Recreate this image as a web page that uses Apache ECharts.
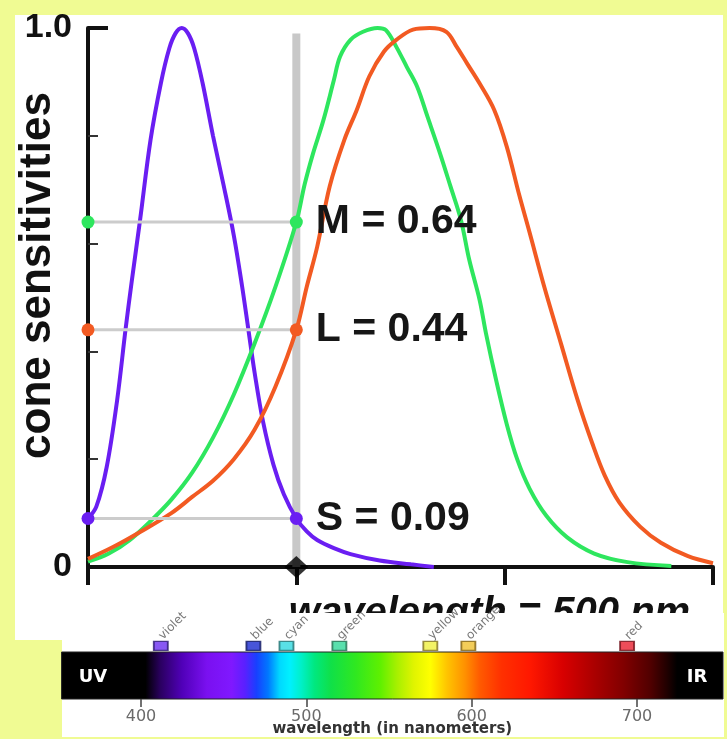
<!DOCTYPE html>
<html>
<head>
<meta charset="utf-8">
<script src="https://cdn.jsdelivr.net/npm/echarts@6/dist/echarts.min.js"></script>
<style>
  html, body { margin: 0; padding: 0; background: #f0fb93; }
  #chart { width: 727px; height: 739px; }
</style>
</head>
<body>
<div id="chart"></div>
<script>
// Cone fundamentals (normalised sensitivity vs wavelength in nm)
const sConeNm   = [400, 404, 409, 414, 418, 421, 425, 430, 435, 439, 442, 445, 448, 451, 455, 460, 465, 470, 474, 477, 480, 484, 489, 494, 500, 505, 510, 518, 526, 540, 555, 566];
const sConeSens = [0.09, 0.112, 0.186, 0.31, 0.44, 0.53, 0.644, 0.792, 0.898, 0.962, 0.99, 1.0, 0.99, 0.962, 0.898, 0.8, 0.71, 0.615, 0.52, 0.44, 0.36, 0.27, 0.19, 0.135, 0.09, 0.066, 0.05, 0.035, 0.024, 0.012, 0.005, 0.0];

const mConeNm   = [400, 410, 420, 430, 440, 450, 460, 470, 480, 490, 500, 504, 508, 513, 518, 521, 526, 532, 539, 543, 548, 553, 558, 563, 569, 574, 579, 583, 588, 591, 596, 601, 606, 612, 620, 630, 643, 659, 680];
const mConeSens = [0.01, 0.025, 0.05, 0.085, 0.125, 0.175, 0.24, 0.32, 0.415, 0.52, 0.64, 0.71, 0.767, 0.829, 0.903, 0.947, 0.978, 0.993, 1.0, 0.996, 0.965, 0.928, 0.891, 0.835, 0.767, 0.706, 0.644, 0.57, 0.495, 0.434, 0.345, 0.265, 0.2, 0.145, 0.095, 0.055, 0.025, 0.009, 0.002];

const lConeNm   = [400, 412, 425, 440, 450, 460, 470, 480, 490, 500, 505, 510, 516, 523, 529, 535, 542, 548, 556, 564, 572, 577, 582, 588, 595, 601, 607, 612, 619, 627, 635, 642, 648, 655, 665, 675, 688, 700];
const lConeSens = [0.015, 0.037, 0.065, 0.1, 0.13, 0.16, 0.2, 0.255, 0.335, 0.44, 0.52, 0.594, 0.706, 0.792, 0.848, 0.91, 0.956, 0.978, 0.997, 1.0, 0.993, 0.965, 0.934, 0.897, 0.848, 0.78, 0.69, 0.62, 0.52, 0.415, 0.31, 0.23, 0.17, 0.12, 0.075, 0.045, 0.02, 0.007];

// Read-out at the probe wavelength
const probeNm = 500;
const probeTop = 0.99;
const readoutNames  = ['M', 'L', 'S'];
const readoutValues = [0.64, 0.44, 0.09];

// Axis ranges and tick labels
const sensAxis = [0, 1];
const nmAxis = [400, 700];
const sensTickLabels = [0, 1];

// Visible spectrum strip
const spectrumRange = [352, 752];
const spectrumTicks = [400, 500, 600, 700];
const spectrumStops = [
  [352, '#000000'], [403, '#000000'], [412, '#2a0060'], [425, '#5000b8'], [440, '#7a10f0'],
  [455, '#8018ff'], [463, '#5a20ff'], [470, '#1840ff'], [477, '#0078ff'], [484, '#00d8ff'],
  [490, '#00f0ff'], [497, '#00f0c8'], [505, '#00e880'], [515, '#10e048'], [530, '#30e820'],
  [545, '#60f000'], [555, '#a8f000'], [565, '#e0f400'], [575, '#ffff00'], [585, '#ffc400'],
  [596, '#ff9000'], [605, '#ff5a00'], [618, '#ff3000'], [635, '#ff1800'], [655, '#d80000'],
  [675, '#a80000'], [692, '#800000'], [708, '#500000'], [718, '#200000'], [724, '#000000'],
  [752, '#000000']
];
const markerNames = ['violet', 'blue', 'cyan', 'green', 'yellow', 'orange', 'red'];
const markerNm    = [412, 468, 488, 520, 575, 598, 694];
const markerLevel = 1.13;

// Styling
const coneColor = { S: '#6a1ef2', M: '#2ee65e', L: '#f25a22' };
const markerFill = ['#6a2ef0', '#1a2ad0', '#30d8e0', '#30d898', '#f0f040', '#f0c030', '#e82030'];
const markerEdge = ['#2a1870', '#101860', '#207070', '#207050', '#807020', '#806010', '#701018'];
const SANS = "'Liberation Sans', Arial, sans-serif";
const WIDE = "'DejaVu Sans', Verdana, sans-serif";

const toPoints = (xs, ys) => xs.map((x, i) => [x, ys[i]]);

const coneCurves = [
  { name: 'S', nm: sConeNm, sens: sConeSens },
  { name: 'M', nm: mConeNm, sens: mConeSens },
  { name: 'L', nm: lConeNm, sens: lConeSens }
].map(c => ({
  name: c.name,
  type: 'line',
  xAxisIndex: 0,
  yAxisIndex: 0,
  data: toPoints(c.nm, c.sens),
  smooth: 0.35,
  symbol: 'none',
  lineStyle: { color: coneColor[c.name], width: 4 },
  z: 3,
  silent: true
}));

const readoutSeries = readoutNames.map((name, i) => {
  const v = readoutValues[i];
  return {
    name: name + ' read-out',
    type: 'line',
    xAxisIndex: 0,
    yAxisIndex: 0,
    clip: false,
    symbol: 'circle',
    symbolSize: 13,
    itemStyle: { color: coneColor[name] },
    lineStyle: { color: '#cccccc', width: 3 },
    label: {
      position: 'right',
      distance: 13,
      fontFamily: SANS,
      fontWeight: 'bold',
      fontSize: 41,
      color: '#161616'
    },
    data: [
      { value: [nmAxis[0], v] },
      { value: [probeNm, v], label: { show: true, formatter: name + ' = ' + v.toFixed(2) } }
    ],
    z: 5,
    silent: true
  };
});

const spectrumGradient = new echarts.graphic.LinearGradient(0, 0, 1, 0,
  spectrumStops.map(([nm, color]) => ({
    offset: (nm - spectrumRange[0]) / (spectrumRange[1] - spectrumRange[0]),
    color
  }))
);

const option = {
  backgroundColor: '#f0fb93',
  animation: false,
  graphic: [
    { type: 'rect', z: -10, shape: { x: 15, y: 15, width: 708, height: 625 }, style: { fill: '#ffffff' } },
    { type: 'rect', z: 5, shape: { x: 62, y: 613, width: 662, height: 124 }, style: { fill: '#ffffff' } },
    { type: 'text', z: 30, style: { text: 'UV', x: 93, y: 677, align: 'center', verticalAlign: 'middle', fill: '#ffffff', fontFamily: WIDE, fontWeight: 'bold', fontSize: 18 } },
    { type: 'text', z: 30, style: { text: 'IR', x: 697, y: 677, align: 'center', verticalAlign: 'middle', fill: '#ffffff', fontFamily: WIDE, fontWeight: 'bold', fontSize: 18 } }
  ],
  grid: [
    { left: 88, right: 14, top: 28, bottom: 172, outerBoundsMode: 'none', containLabel: false },
    { left: 61.6, right: 4, top: 633.2, bottom: 40, outerBoundsMode: 'none', containLabel: false }
  ],
  xAxis: [
    {
      gridIndex: 0,
      type: 'value',
      min: nmAxis[0],
      max: nmAxis[1],
      interval: 100,
      axisLine: { lineStyle: { color: '#111111', width: 4 } },
      axisTick: { length: 18, lineStyle: { color: '#111111', width: 4 } },
      axisLabel: { show: false },
      splitLine: { show: false },
      name: 'wavelength = ' + probeNm + ' nm',
      nameLocation: 'middle',
      nameGap: 27,
      nameMoveOverlap: false,
      nameTextStyle: {
        fontFamily: SANS, fontWeight: 'bold', fontStyle: 'italic', fontSize: 40,
        color: '#111111', padding: [0, 0, 0, 178]
      }
    },
    {
      gridIndex: 1,
      type: 'value',
      min: spectrumRange[0],
      max: spectrumRange[1],
      z: 10,
      axisLine: { show: false },
      axisTick: { show: true, customValues: spectrumTicks, length: 8, lineStyle: { color: '#444444', width: 1.5 } },
      axisLabel: { customValues: spectrumTicks, margin: 10, fontFamily: WIDE, fontSize: 16, color: '#6a6a6a' },
      splitLine: { show: false },
      name: 'wavelength (in nanometers)',
      nameLocation: 'middle',
      nameGap: 23,
      nameMoveOverlap: false,
      nameTextStyle: { fontFamily: WIDE, fontWeight: 'bold', fontSize: 15, color: '#333333' }
    }
  ],
  yAxis: [
    {
      gridIndex: 0,
      type: 'value',
      min: sensAxis[0],
      max: sensAxis[1],
      interval: 0.2,
      axisLine: { show: true, lineStyle: { color: '#111111', width: 4 } },
      axisTick: { show: true, inside: true, length: 10, lineStyle: { color: '#333333', width: 2 } },
      axisLabel: {
        customValues: sensTickLabels,
        formatter: v => (v === 0 ? '0' : v.toFixed(1)),
        margin: 16,
        fontFamily: SANS, fontWeight: 'bold', fontSize: 34, color: '#111111'
      },
      splitLine: { show: false },
      name: 'cone sensitivities',
      nameLocation: 'middle',
      nameGap: 28,
      nameMoveOverlap: false,
      nameTextStyle: { fontFamily: SANS, fontWeight: 'bold', fontSize: 44, color: '#111111', padding: [0, 0, 0, 44] }
    },
    {
      gridIndex: 0,
      type: 'value',
      position: 'left',
      offset: 0,
      min: sensAxis[0],
      max: sensAxis[1],
      interval: 1,
      axisLine: { show: false },
      axisTick: { show: true, inside: true, length: 20, lineStyle: { color: '#111111', width: 4 } },
      axisLabel: { show: false },
      splitLine: { show: false }
    },
    {
      gridIndex: 1,
      type: 'value',
      min: 0,
      max: 1.4,
      show: false
    }
  ],
  series: [
    {
      name: 'probe',
      type: 'line',
      xAxisIndex: 0,
      yAxisIndex: 0,
      data: [[probeNm, 0], [probeNm, probeTop]],
      symbol: 'none',
      lineStyle: { color: '#c8c8c8', width: 8 },
      z: 1,
      silent: true
    },
    ...coneCurves,
    ...readoutSeries,
    {
      name: 'probe mark',
      type: 'scatter',
      xAxisIndex: 0,
      yAxisIndex: 0,
      clip: false,
      data: [[probeNm, 0]],
      symbol: 'diamond',
      symbolSize: [24, 22],
      itemStyle: { color: '#000000' },
      z: 6,
      silent: true
    },
    {
      name: 'spectrum',
      type: 'custom',
      xAxisIndex: 1,
      yAxisIndex: 2,
      clip: false,
      z: 10,
      data: [[spectrumRange[0], spectrumRange[1]]],
      encode: { x: [0, 1] },
      renderItem: (params, api) => {
        const p0 = api.coord([api.value(0), 1]);
        const p1 = api.coord([api.value(1), 0]);
        return {
          type: 'rect',
          shape: { x: p0[0], y: p0[1], width: p1[0] - p0[0], height: p1[1] - p0[1] },
          style: { fill: spectrumGradient, stroke: '#222222', lineWidth: 1 }
        };
      },
      silent: true
    },
    {
      name: 'colour names',
      type: 'scatter',
      xAxisIndex: 1,
      yAxisIndex: 2,
      clip: false,
      z: 12,
      symbol: 'rect',
      symbolSize: [14, 9],
      data: markerNames.map((n, i) => ({
        name: n,
        value: [markerNm[i], markerLevel],
        itemStyle: { color: markerFill[i], borderColor: markerEdge[i], borderWidth: 1.5 }
      })),
      label: {
        show: true,
        formatter: '{b}',
        position: 'top',
        distance: 3,
        rotate: 45,
        align: 'left',
        verticalAlign: 'middle',
        fontFamily: WIDE,
        fontSize: 12,
        color: '#555555'
      },
      silent: true
    }
  ]
};

const chart = echarts.init(document.getElementById('chart'), null, { renderer: 'canvas' });
chart.setOption(option);
</script>
</body>
</html>
